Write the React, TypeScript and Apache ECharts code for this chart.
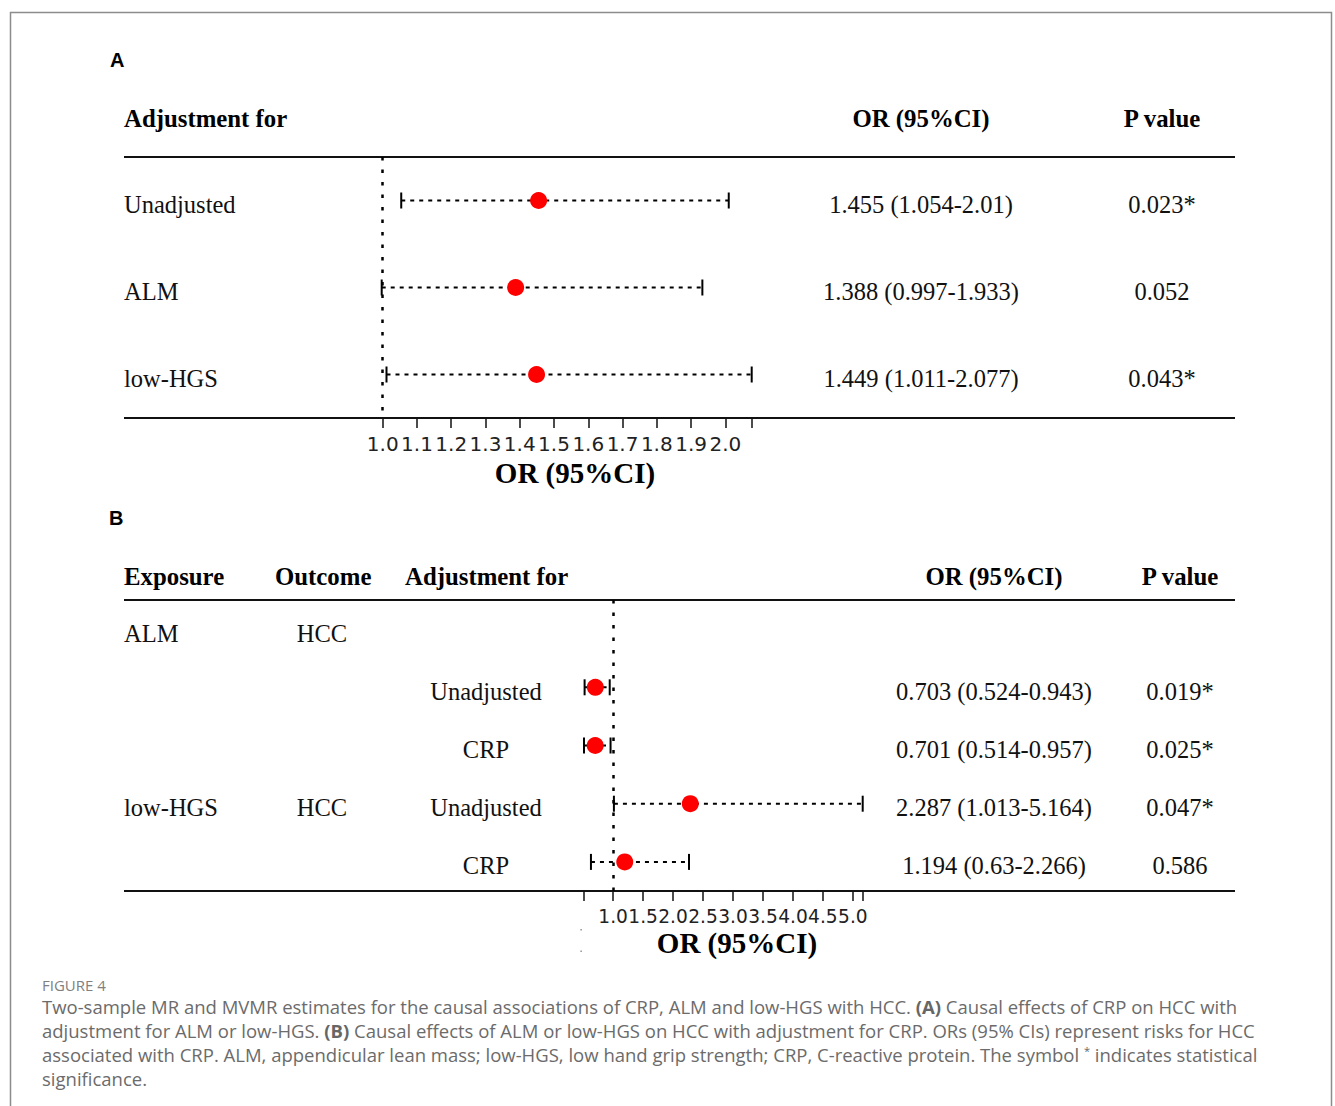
import React, { useEffect, useRef } from "react";
import * as echarts from "echarts";

// ---------- Panel A data ----------
const aAdjust = ["Unadjusted", "ALM", "low-HGS"];
const aOR = [1.455, 1.388, 1.449];
const aLow = [1.054, 0.997, 1.011];
const aHigh = [2.01, 1.933, 2.077];
const aP = ["0.023*", "0.052", "0.043*"];
const aTicks = [1.0, 1.1, 1.2, 1.3, 1.4, 1.5, 1.6, 1.7, 1.8, 1.9, 2.0, 2.077];
const aTickLabels = [1.0, 1.1, 1.2, 1.3, 1.4, 1.5, 1.6, 1.7, 1.8, 1.9, 2.0];
const aMin = 0.997;
const aMax = 2.077;

// ---------- Panel B data ----------
const bExposure = ["ALM", "", "", "low-HGS", ""];
const bOutcome = ["HCC", "", "", "HCC", ""];
const bAdjust = ["", "Unadjusted", "CRP", "Unadjusted", "CRP"];
const bOR: (number | null)[] = [null, 0.703, 0.701, 2.287, 1.194];
const bLow: (number | null)[] = [null, 0.524, 0.514, 1.013, 0.63];
const bHigh: (number | null)[] = [null, 0.943, 0.957, 5.164, 2.266];
const bP = ["", "0.019*", "0.025*", "0.047*", "0.586"];
const bTicks = [0.514, 1.0, 1.5, 2.0, 2.5, 3.0, 3.5, 4.0, 4.5, 5.0, 5.164];
const bTickLabels = [1.0, 1.5, 2.0, 2.5, 3.0, 3.5, 4.0, 4.5, 5.0];
const bMin = 0.514;
const bMax = 5.164;

const captionTitle = "FIGURE 4";
const captionLines = [
  "Two-sample MR and MVMR estimates for the causal associations of CRP, ALM and low-HGS with HCC. {b|(A)} Causal effects of CRP on HCC with",
  "adjustment for ALM or low-HGS. {b|(B)} Causal effects of ALM or low-HGS on HCC with adjustment for CRP. ORs (95% CIs) represent risks for HCC",
  "associated with CRP. ALM, appendicular lean mass; low-HGS, low hand grip strength; CRP, C-reactive protein. The symbol {sup|*} indicates statistical",
  "significance.",
];

// ---------- layout ----------
const W = 1335;
const H = 1106;
const SERIF = "'Liberation Serif', 'Times New Roman', serif";
const SANS = "'Liberation Sans', Arial, sans-serif";
const AXISFONT = "'DejaVu Sans', sans-serif";
const CAPFONT = "'Open Sans', 'Noto Sans', sans-serif";
const BODY = 24.5;
const HEAD = 24.8;
const CAPSIZE = 18.5;

const gA = { left: 381.7, right: W - 751.7, top: 157, bottom: H - 418 };
const gB = { left: 584, right: W - 862.7, top: 600, bottom: H - 891 };
const ruleL = 124;
const ruleR = 1235;

function rowY(g: any, n: number, i: number) {
  const h = H - g.bottom - g.top;
  return g.top + ((i + 0.5) * h) / n;
}

function txt(text: string, x: number, y: number, opts: any = {}) {
  const align = opts.align || "left";
  return {
    type: "text",
    x,
    y,
    silent: true,
    style: {
      text,
      fill: opts.color || "#111",
      fontFamily: opts.fontFamily || SERIF,
      fontSize: opts.fontSize || BODY,
      fontWeight: opts.fontWeight || "normal",
      align,
      textAlign: align,
      verticalAlign: "middle",
      textVerticalAlign: "middle",
      rich: opts.rich,
    },
  };
}

function rule(y: number) {
  return {
    type: "line",
    silent: true,
    shape: { x1: ruleL, y1: y, x2: ruleR, y2: y },
    style: { stroke: "#111", lineWidth: 2 },
  };
}

function errRender(params: any, api: any) {
  const idx = api.value(2);
  const lo = api.coord([api.value(0), idx]);
  const hi = api.coord([api.value(1), idx]);
  const y = lo[1];
  const s = { stroke: "#000", lineWidth: 2 };
  return {
    type: "group",
    children: [
      {
        type: "line",
        shape: { x1: lo[0], y1: y, x2: hi[0], y2: y },
        style: { ...s, lineDash: [4, 5] },
      },
      { type: "line", shape: { x1: lo[0], y1: y - 8, x2: lo[0], y2: y + 8 }, style: s },
      { type: "line", shape: { x1: hi[0], y1: y - 8, x2: hi[0], y2: y + 8 }, style: s },
    ],
  };
}

function xAxisCfg(gi: number, min: number, max: number, ticks: number[], labels: number[], fs: number) {
  return {
    gridIndex: gi,
    type: "value",
    min,
    max,
    axisLine: { show: false },
    splitLine: { show: false },
    axisTick: {
      show: true,
      length: 10,
      customValues: ticks,
      lineStyle: { color: "#111", width: 1.5 },
    },
    axisLabel: {
      customValues: labels,
      formatter: (v: number) => v.toFixed(1),
      fontFamily: AXISFONT,
      fontSize: fs,
      color: "#222",
      margin: 16,
      showMinLabel: true,
      showMaxLabel: true,
      hideOverlap: false,
    },
  };
}

function refLine() {
  return {
    silent: true,
    symbol: "none",
    label: { show: false },
    lineStyle: { color: "#000", width: 2.5, type: [3.5, 9] },
    data: [{ xAxis: 1 }],
  };
}

export default function App() {
  const ref = useRef<HTMLDivElement>(null);

  useEffect(() => {
    if (!ref.current) return;
    const chart = echarts.init(ref.current, undefined, { renderer: "svg" });

    const aErr = aOR.map((_, i) => [aLow[i], aHigh[i], i]);
    const aPts = aOR.map((v, i) => [v, i]);
    const bErr: any[] = [];
    const bPts: any[] = [];
    bOR.forEach((v, i) => {
      if (v == null) return;
      bErr.push([bLow[i], bHigh[i], i]);
      bPts.push([v, i]);
    });

    const g: any[] = [];
    // outer frame
    g.push({
      type: "rect",
      silent: true,
      shape: { x: 10.5, y: 12.5, width: 1321, height: 1200 },
      style: { fill: "none", stroke: "#8c8c8c", lineWidth: 1.5 },
    });
    // panel letters
    g.push(txt("A", 110, 60, { fontFamily: SANS, fontWeight: "bold", fontSize: 20, color: "#000" }));
    g.push(txt("B", 109, 518, { fontFamily: SANS, fontWeight: "bold", fontSize: 20, color: "#000" }));

    // Panel A headers
    const hb = { fontWeight: "bold", fontSize: HEAD, color: "#000" };
    g.push(txt("Adjustment for", 124, 118, hb));
    g.push(txt("OR (95%CI)", 921, 118, { ...hb, align: "center" }));
    g.push(txt("P value", 1162, 118, { ...hb, align: "center" }));
    g.push(rule(157));
    g.push(rule(418));
    aAdjust.forEach((name, i) => {
      const y = rowY(gA, aAdjust.length, i) + 4;
      g.push(txt(name, 124, y));
      g.push(txt(`${aOR[i]} (${aLow[i]}-${aHigh[i]})`, 921, y, { align: "center" }));
      g.push(txt(aP[i], 1162, y, { align: "center" }));
    });
    g.push(txt("OR (95%CI)", 575, 473, { fontWeight: "bold", fontSize: 29, color: "#000", align: "center" }));

    // Panel B headers
    g.push(txt("Exposure", 124, 576, hb));
    g.push(txt("Outcome", 275, 576, hb));
    g.push(txt("Adjustment for", 405, 576, hb));
    g.push(txt("OR (95%CI)", 994, 576, { ...hb, align: "center" }));
    g.push(txt("P value", 1180, 576, { ...hb, align: "center" }));
    g.push(rule(600));
    g.push(rule(891));
    bAdjust.forEach((adj, i) => {
      const y = rowY(gB, bAdjust.length, i) + 4;
      if (bExposure[i]) g.push(txt(bExposure[i], 124, y));
      if (bOutcome[i]) g.push(txt(bOutcome[i], 322, y, { align: "center" }));
      if (adj) g.push(txt(adj, 486, y, { align: "center" }));
      if (bOR[i] != null)
        g.push(txt(`${bOR[i]} (${bLow[i]}-${bHigh[i]})`, 994, y, { align: "center" }));
      if (bP[i]) g.push(txt(bP[i], 1180, y, { align: "center" }));
    });
    g.push(txt("OR (95%CI)", 737, 943, { fontWeight: "bold", fontSize: 29, color: "#000", align: "center" }));
    // small stray marks under panel B axis
    g.push({ type: "rect", silent: true, shape: { x: 580.5, y: 929, width: 1.2, height: 1.5 }, style: { fill: "#777" } });
    g.push({ type: "rect", silent: true, shape: { x: 580.5, y: 950.5, width: 1.2, height: 1.5 }, style: { fill: "#777" } });

    // Caption
    g.push(txt(captionTitle, 42, 985, { fontFamily: CAPFONT, fontSize: 15, color: "#808080" }));
    const capRich = {
      b: { fontFamily: CAPFONT, fontSize: CAPSIZE, fontWeight: "bold", fill: "#666", color: "#666" },
      sup: { fontFamily: CAPFONT, fontSize: 11, fill: "#666", color: "#666", verticalAlign: "top", padding: [0, 0, 8, 0] },
    };
    captionLines.forEach((line, i) => {
      g.push(txt(line, 42, 1006 + i * 24, { fontFamily: CAPFONT, fontSize: CAPSIZE, color: "#6b6b6b", rich: capRich }));
    });

    chart.setOption({
      animation: false,
      backgroundColor: "#ffffff",
      grid: [
        { ...gA, containLabel: false },
        { ...gB, containLabel: false },
      ],
      xAxis: [
        xAxisCfg(0, aMin, aMax, aTicks, aTickLabels, 20),
        xAxisCfg(1, bMin, bMax, bTicks, bTickLabels, 18.6),
      ],
      yAxis: [
        {
          gridIndex: 0,
          type: "category",
          inverse: true,
          data: aAdjust,
          show: false,
        },
        {
          gridIndex: 1,
          type: "category",
          inverse: true,
          data: bAdjust.map((a, i) => `${bExposure[i]}|${a}|${i}`),
          show: false,
        },
      ],
      series: [
        {
          type: "custom",
          xAxisIndex: 0,
          yAxisIndex: 0,
          renderItem: errRender,
          encode: { x: [0, 1], y: 2 },
          data: aErr,
          clip: false,
          silent: true,
          z: 2,
        },
        {
          type: "scatter",
          xAxisIndex: 0,
          yAxisIndex: 0,
          data: aPts,
          symbolSize: 17,
          itemStyle: { color: "#ff0000", opacity: 1 },
          silent: true,
          z: 3,
          markLine: refLine(),
        },
        {
          type: "custom",
          xAxisIndex: 1,
          yAxisIndex: 1,
          renderItem: errRender,
          encode: { x: [0, 1], y: 2 },
          data: bErr,
          clip: false,
          silent: true,
          z: 2,
        },
        {
          type: "scatter",
          xAxisIndex: 1,
          yAxisIndex: 1,
          data: bPts,
          symbolSize: 17,
          itemStyle: { color: "#ff0000", opacity: 1 },
          silent: true,
          z: 3,
          markLine: refLine(),
        },
      ],
      graphic: { elements: g },
    });

    return () => chart.dispose();
  }, []);

  return (
    <div
      ref={ref}
      style={{ position: "fixed", left: 0, top: 0, width: W, height: H, background: "#fff" }}
    />
  );
}
